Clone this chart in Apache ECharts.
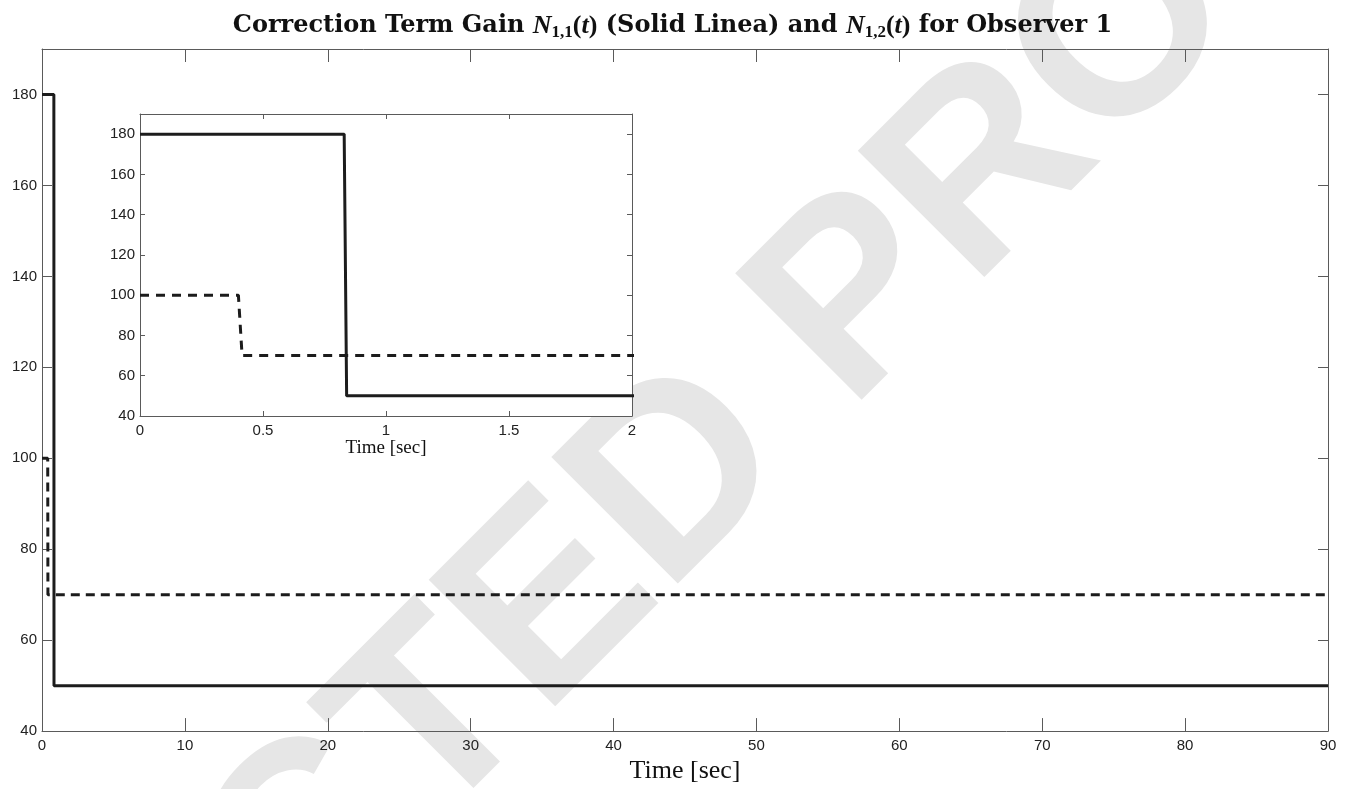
<!DOCTYPE html>
<html>
<head>
<meta charset="utf-8">
<script src="https://cdn.jsdelivr.net/npm/echarts@6/dist/echarts.min.js"></script>
<style>
html,body{margin:0;padding:0;background:#fff;}
#chart{width:1345px;height:789px;}
</style>
</head>
<body>
<div id="chart"></div>
<script>
// ---- data ----
const solidTime   = [0, 0.83, 0.84, 90];
const solidGain   = [180, 180, 50, 50];
const dashedTime  = [0, 0.40, 0.415, 90];
const dashedGain  = [100, 100, 70, 70];
const mainXTicks  = [0, 10, 20, 30, 40, 50, 60, 70, 80, 90];
const insetXTicks = [0, 0.5, 1, 1.5, 2];
const yTicks      = [40, 60, 80, 100, 120, 140, 160, 180];
const xName = 'Time [sec]';
const watermark = 'UNCORRECTED PROOF';

const pairs = (t, v) => t.map((x, i) => [x, v[i]]);

const axisCol = '#5a5a5a';
const lineCol = '#1c1c1c';
const labelFont = '"Liberation Sans", Arial, sans-serif';
const serif = '"Liberation Serif", "DejaVu Serif", serif';
const titleSerif = '"DejaVu Serif", "Liberation Serif", serif';

function xAxis(gridIndex, min, max, interval, pos, showLab, tickLen, nameSize, nameGap) {
  return {
    type: 'value', gridIndex, min, max, interval, position: pos,
    name: showLab ? xName : '', nameLocation: 'middle', nameGap,
    nameTextStyle: {fontFamily: serif, fontSize: nameSize, color: '#111'},
    axisLine: {show: true, onZero: false, lineStyle: {color: axisCol, width: 1}},
    axisTick: {show: true, inside: true, length: tickLen, lineStyle: {color: axisCol, width: 1}},
    axisLabel: {show: showLab, color: '#222', fontFamily: labelFont, fontSize: 15, margin: 7,
      formatter: v => String(v)},
    splitLine: {show: false}
  };
}
function yAxis(gridIndex, pos, showLab, tickLen) {
  return {
    type: 'value', gridIndex, min: 40, max: 190, interval: 20, position: pos,
    axisLine: {show: true, onZero: false, lineStyle: {color: axisCol, width: 1}},
    axisTick: {show: true, inside: true, length: tickLen, lineStyle: {color: axisCol, width: 1}},
    axisLabel: {show: showLab, showMaxLabel: false, color: '#222', fontFamily: labelFont, fontSize: 15, margin: 5},
    splitLine: {show: false}
  };
}

const chart = echarts.init(document.getElementById('chart'), null, {renderer: 'canvas'});
chart.setOption({
  backgroundColor: '#fff',
  animation: false,
  title: {
    left: 'center', top: 6,
    text: '{b|Correction Term Gain }{i|N}{s|1,1}{r|(}{i|t}{r|)}{b| (Solid Linea) and }{i|N}{s|1,2}{r|(}{i|t}{r|)}{b| for Observer 1}',
    textStyle: {
      rich: {
        b: {fontFamily: titleSerif, fontWeight: 'bold', fontSize: 24, color: '#111', lineHeight: 30},
        i: {fontFamily: serif, fontStyle: 'italic', fontSize: 26, color: '#111', lineHeight: 30},
        r: {fontFamily: serif, fontSize: 26, color: '#111', lineHeight: 30},
        s: {fontFamily: serif, fontSize: 17, color: '#111', lineHeight: 20, verticalAlign: 'bottom'}
      }
    }
  },
  graphic: [{
    type: 'text', z: -10, silent: true,
    x: 385, y: 775, rotation: 45 * Math.PI / 180,
    style: {text: watermark, fill: '#e6e6e6', font: 'bold 260px "Liberation Sans", Arial, sans-serif',
      align: 'center', verticalAlign: 'middle'}
  }],
  grid: [
    {left: 42, right: 17, top: 49, bottom: 56, show: false},
    {left: 140, right: 713, top: 114, bottom: 373, show: true, backgroundColor: '#fff', borderWidth: 0, z: 5}
  ],
  xAxis: [
    xAxis(0, 0, 90, 10, 'bottom', true, 13, 26, 24),
    xAxis(0, 0, 90, 10, 'top', false, 13, 26, 24),
    Object.assign(xAxis(1, 0, 2, 0.5, 'bottom', true, 5, 19, 13), {z: 6}),
    Object.assign(xAxis(1, 0, 2, 0.5, 'top', false, 5, 19, 13), {z: 6})
  ],
  yAxis: [
    yAxis(0, 'left', true, 10),
    yAxis(0, 'right', false, 10),
    Object.assign(yAxis(1, 'left', true, 5), {z: 6}),
    Object.assign(yAxis(1, 'right', false, 5), {z: 6})
  ],
  series: [
    {type: 'line', xAxisIndex: 0, yAxisIndex: 0, data: pairs(solidTime, solidGain), showSymbol: false,
      lineStyle: {color: lineCol, width: 3}, z: 3},
    {type: 'line', xAxisIndex: 0, yAxisIndex: 0, data: pairs(dashedTime, dashedGain), showSymbol: false,
      lineStyle: {color: lineCol, width: 3, type: [9, 6]}, z: 3},
    {type: 'line', xAxisIndex: 2, yAxisIndex: 2, data: pairs(solidTime, solidGain), showSymbol: false,
      lineStyle: {color: lineCol, width: 3}, z: 7, clip: true},
    {type: 'line', xAxisIndex: 2, yAxisIndex: 2, data: pairs(dashedTime, dashedGain), showSymbol: false,
      lineStyle: {color: lineCol, width: 3, type: [9, 7]}, z: 7, clip: true}
  ]
});
</script>
</body>
</html>
